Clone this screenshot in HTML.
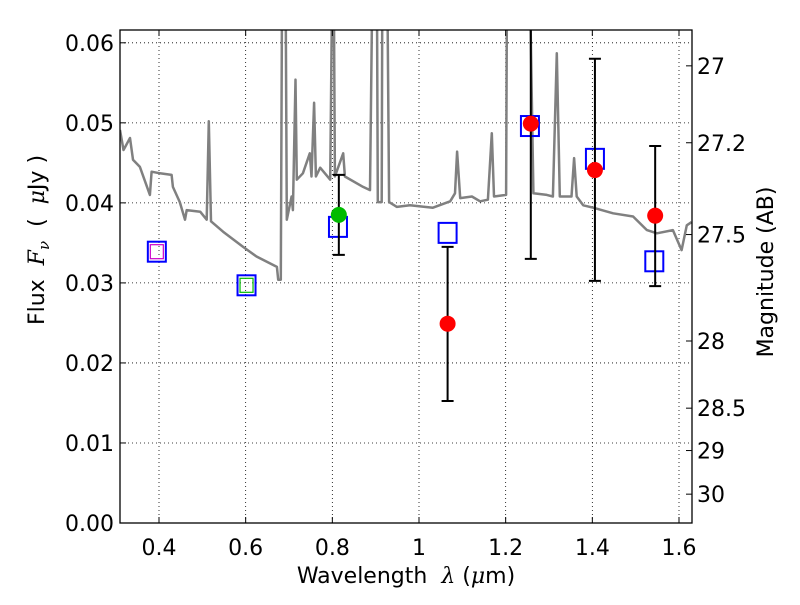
<!DOCTYPE html>
<html><head><meta charset="utf-8"><style>
body{margin:0;background:#fff}
svg text{font-family:"DejaVu Sans","Liberation Sans",sans-serif;fill:#000;white-space:pre}
</style></head><body>
<svg id="chart" width="800" height="600" xmlns="http://www.w3.org/2000/svg">
<defs><clipPath id="clip"><rect x="120" y="30" width="572" height="493"/></clipPath></defs>
<rect width="800" height="600" fill="#fff"/>
<g id="grid"></g>
<g id="spec" clip-path="url(#clip)"></g>
<g id="marks" clip-path="url(#clip)"></g>
<rect x="120" y="30" width="572" height="493" fill="none" stroke="#000" stroke-width="1.3"/>
<g id="axes"></g>
<text x="406" y="583" font-size="22" text-anchor="middle">Wavelength  <tspan font-family="DejaVu Serif" font-style="italic">λ</tspan> (<tspan font-family="DejaVu Serif" font-style="italic">μ</tspan>m)</text>
<text transform="translate(44,240) rotate(-90)" font-size="22" text-anchor="middle">Flux  <tspan font-family="DejaVu Serif" font-style="italic">F</tspan><tspan font-family="DejaVu Serif" font-style="italic" font-size="15" dy="5">ν</tspan><tspan dy="-5">  (  </tspan><tspan font-family="DejaVu Serif" font-style="italic">μ</tspan>Jy )</text>
<text transform="translate(773,272) rotate(-90)" font-size="22" text-anchor="middle">Magnitude (AB)</text>
</svg>
<script>
const xTicks=[0.4,0.6,0.8,1,1.2,1.4,1.6];
const xTickLabels=["0.4","0.6","0.8","1","1.2","1.4","1.6"];
const yTicks=[0,0.01,0.02,0.03,0.04,0.05,0.06];
const yTickLabels=["0.00","0.01","0.02","0.03","0.04","0.05","0.06"];
const magTicks=[27,27.2,27.5,28,28.5,29,30];
const magTickLabels=["27","27.2","27.5","28","28.5","29","30"];
const specWave=[0.310,0.318,0.333,0.340,0.356,0.379,0.383,0.402,0.429,0.432,0.448,0.460,0.464,0.495,0.510,0.515,0.520,0.548,0.594,0.625,0.672,0.675,0.681,0.685,0.691,0.695,0.706,0.709,0.715,0.718,0.732,0.748,0.752,0.758,0.762,0.772,0.795,0.802,0.806,0.825,0.829,0.871,0.887,0.895,0.902,0.905,0.914,0.916,0.925,0.931,0.949,0.979,1.032,1.072,1.083,1.088,1.095,1.122,1.141,1.159,1.168,1.173,1.201,1.204,1.252,1.264,1.295,1.309,1.318,1.325,1.352,1.358,1.364,1.379,1.402,1.448,1.494,1.526,1.549,1.586,1.606,1.618,1.629];
const specFlux=[0.0491,0.0466,0.0481,0.0454,0.0445,0.0410,0.0439,0.0437,0.0435,0.0420,0.0401,0.0379,0.0391,0.0389,0.0379,0.0502,0.0377,0.0364,0.0345,0.0333,0.0320,0.0304,0.0304,0.08,0.08,0.0379,0.0408,0.0391,0.0554,0.0429,0.0437,0.0462,0.0433,0.0525,0.0433,0.0444,0.0429,0.08,0.0433,0.0462,0.0433,0.0420,0.0416,0.08,0.08,0.0401,0.0401,0.08,0.08,0.0401,0.0395,0.0397,0.0394,0.0402,0.0412,0.0464,0.0406,0.0408,0.0402,0.0404,0.0487,0.0408,0.0410,0.08,0.08,0.0412,0.0410,0.0408,0.0587,0.0408,0.0408,0.0456,0.0408,0.0397,0.0394,0.0387,0.0383,0.0366,0.0362,0.0366,0.0341,0.0372,0.0376];
const modelWave=[0.395,0.602,0.813,1.066,1.256,1.406,1.543];
const modelFlux=[0.0339,0.0297,0.0370,0.03625,0.0496,0.0455,0.0327];
const obsWave=[0.815,1.066,1.258,1.406,1.545];
const obsFlux=[0.0385,0.0249,0.0499,0.0441,0.0384];
const obsLo=[0.0335,0.01525,0.0330,0.03025,0.0296];
const obsHi=[0.0435,0.0345,0.0700,0.0580,0.0471];
const obsColor=["#00bb00","#ff0000","#ff0000","#ff0000","#ff0000"];

const X0=120,X1=692,Y0=523,Y1=30,xmin=0.31,xmax=1.63,ymax=0.0616;
const sx=v=>X0+(v-xmin)/(xmax-xmin)*(X1-X0);
const sy=v=>Y0-v/ymax*(Y0-Y1);
const magToFlux=m=>Math.pow(10,(23.892-m)/2.5);
const NS="http://www.w3.org/2000/svg";
function mk(tag,attrs,parent){const e=document.createElementNS(NS,tag);for(const k in attrs)e.setAttribute(k,attrs[k]);document.getElementById(parent).appendChild(e);return e;}

xTicks.forEach((t,i)=>{const x=sx(t);
 const g=mk('line',{x1:x,x2:x,y1:Y1,y2:Y0,stroke:'#000','stroke-width':0.8,'stroke-dasharray':'1,3'},'grid');
 
 
 mk('line',{x1:x,x2:x,y1:Y0,y2:Y0-6,stroke:'#000'},'axes');
 mk('line',{x1:x,x2:x,y1:Y1,y2:Y1+6,stroke:'#000'},'axes');
 const tx=mk('text',{x:x,y:555,'font-size':22,'text-anchor':'middle'},'axes');tx.textContent=xTickLabels[i];
 
 
});
yTicks.forEach((t,i)=>{const y=sy(t);
 const g=mk('line',{x1:X0,x2:X1,y1:y,y2:y,stroke:'#000','stroke-width':0.8,'stroke-dasharray':'1,3'},'grid');
 
 
 mk('line',{x1:X0,x2:X0+6,y1:y,y2:y,stroke:'#000'},'axes');
 const tx=mk('text',{x:114,y:y+8,'font-size':22,'text-anchor':'end'},'axes');tx.textContent=yTickLabels[i];
 
 
});
magTicks.forEach((m,i)=>{const y=sy(magToFlux(m));
 mk('line',{x1:X1,x2:X1-6,y1:y,y2:y,stroke:'#000'},'axes');
 const tx=mk('text',{x:697,y:y+8,'font-size':22},'axes');tx.textContent=magTickLabels[i];
 
 
});
const pts=specWave.map((w,i)=>sx(w).toFixed(1)+','+sy(specFlux[i]).toFixed(1)).join(' ');
const pl=mk('polyline',{points:pts,fill:'none',stroke:'#808080','stroke-width':2.5,'stroke-linejoin':'round'},'spec');


modelWave.forEach((w,i)=>{const x=sx(w),y=sy(modelFlux[i]);
 const r=mk('rect',{x:x-9,y:y-10,width:18,height:20,fill:'none',stroke:'#0000ff','stroke-width':2},'marks');
 
 
 if(i<2){const c=mk('rect',{x:x-6.5,y:y-7,width:13,height:14,fill:'none',stroke:i==0?'#cc00cc':'#00bb00','stroke-width':1.2},'marks');
  
  }
});
obsWave.forEach((w,i)=>{const x=sx(w);
 const a=sy(obsHi[i]),b=sy(obsLo[i]);
 const e=mk('path',{d:`M${x},${a}V${b}M${x-6},${a}H${x+6}M${x-6},${b}H${x+6}`,stroke:'#000','stroke-width':2,fill:'none'},'marks');
 
 
 const c=mk('circle',{cx:x,cy:sy(obsFlux[i]),r:8,fill:obsColor[i]},'marks');
 
 
});
</script>
</body></html>
